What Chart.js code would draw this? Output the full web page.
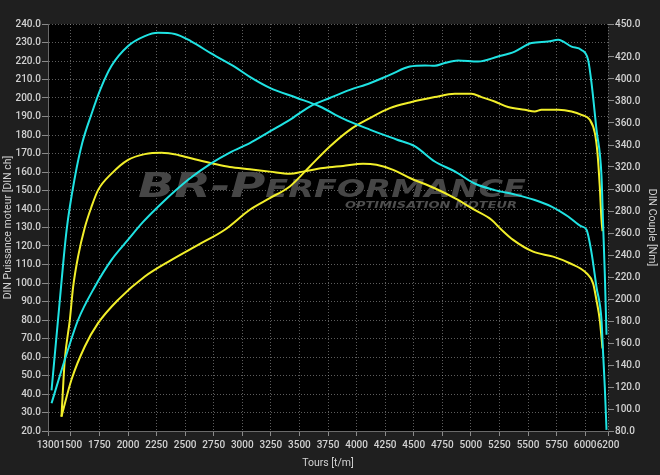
<!DOCTYPE html>
<html><head><meta charset="utf-8">
<script src="https://cdn.jsdelivr.net/npm/chart.js@4.4.1/dist/chart.umd.min.js"></script>
<style>html,body{margin:0;padding:0;background:#1f1f1f;overflow:hidden}</style>
</head><body>
<canvas id="c" width="660" height="475"></canvas>
<script>
// ---- tick labels ----
const rpmTicks = [1300,1500,1750,2000,2250,2500,2750,3000,3250,3500,3750,4000,4250,4500,4750,5000,5250,5500,5750,6000,6200];
const powerTicks = [20,30,40,50,60,70,80,90,100,110,120,130,140,150,160,170,180,190,200,210,220,230,240];
const torqueTicks = [80,100,120,140,160,180,200,220,240,260,280,300,320,340,360,380,400,420,450];

// ---- cyan run: power [DIN ch] ----
const cyanPowerRpm = [1331,1447,1563,1710,1856,2001,2132,2293,2526,2731,2891,3066,3241,3416,3591,3766,3941,4116,4291,4466,4600,4684,4771,4888,5063,5238,5384,5531,5676,5764,5881,5968,6026,6056,6099,6143,6157,6172,6187];
const cyanPowerCh  = [35,58.5,80,98,112.5,123.4,133,143,155.8,164.8,170.5,175.6,181.9,188.2,195.4,200,204.4,208,212.5,217,217.6,217.4,218.9,220.3,219.7,222.4,225.1,229.7,230.5,231.5,227.8,226,220.6,208,183,158,132,105,72];
// ---- cyan run: torque [Nm] ----
const cyanTorqueRpm = [1331,1400,1462,1534,1600,1680,1760,1856,2001,2147,2263,2409,2556,2731,2935,3066,3241,3474,3678,3882,4116,4349,4508,4684,4859,5033,5208,5384,5559,5706,5851,5968,6012,6056,6099,6143,6157,6172,6187];
const cyanTorqueNm  = [117,195,262,310,342,368,391,412,430,439,442,441,434,423,411,402,392,383,375,364,354,345,339,325,316,305,299,295,290,284,275,266,263,242,211,181,151,120,81];
// ---- yellow run: power [DIN ch] ----
const yellowPowerRpm = [1418,1505,1622,1738,1913,2147,2381,2614,2847,3066,3241,3416,3591,3766,3941,4116,4291,4466,4684,4859,5005,5093,5208,5326,5472,5559,5618,5764,5881,5968,6041,6085,6108,6128,6143,6152];
const yellowPowerCh  = [27.8,47.7,65.7,78.3,90.9,103.5,112.5,120.6,128.8,139.6,145.9,152.2,163,173.8,182.8,189.1,194.5,197.6,200.5,202.3,202.3,200.5,198.1,195.1,193.6,192.7,193.6,193.6,192.7,190.9,188.2,181,170.2,152.2,134.2,128];
// ---- yellow run: torque [Nm] ----
const yellowTorqueRpm = [1418,1432,1447,1491,1520,1563,1622,1681,1738,1856,2001,2147,2293,2438,2584,2731,2891,3066,3241,3416,3532,3707,3882,4057,4174,4320,4466,4684,4859,5033,5180,5268,5370,5545,5720,5866,6012,6070,6099,6128,6152];
const yellowTorqueNm  = [93,120,145,181,211,238.5,265,284,299,314,326.5,331.7,333,331,327,323.5,320,318,315.8,313.8,315.8,319,321,323,322,317.4,310,300.7,291.7,281,272,263,253.7,243,238.5,232.5,223.4,214,199,181,155];

const CYAN = '#1fe3e3';
const YELLOW = '#f2ef2a';
const TXT = '#d2d2d2';

const pts = (xs, ys) => xs.map((x, i) => ({x, y: ys[i]}));

const bgPlugin = {
  id: 'bg',
  beforeDraw(chart) {
    const {ctx, chartArea: a} = chart;
    ctx.save();
    ctx.fillStyle = '#1f1f1f';
    ctx.fillRect(0, 0, chart.width, chart.height);
    ctx.fillStyle = '#000000';
    ctx.fillRect(a.left, a.top, a.right - a.left, a.bottom - a.top);
    ctx.restore();
  }
};

const watermark = {
  id: 'wm',
  beforeDatasetsDraw(chart) {
    const ctx = chart.ctx;
    ctx.save();
    ctx.font = 'italic small-caps bold 34px "DejaVu Sans"';
    ctx.fillStyle = '#464646';
    ctx.textBaseline = 'alphabetic';
    const t1 = 'BR-Performance';
    const w1 = ctx.measureText(t1).width;
    ctx.translate(138, 197);
    ctx.scale(388 / w1, 1);
    ctx.fillText(t1, 0, 0);
    ctx.restore();
    ctx.save();
    ctx.font = 'italic bold 8.5px "DejaVu Sans"';
    ctx.fillStyle = '#4e4e4e';
    const t2 = 'OPTIMISATION MOTEUR';
    const w2 = ctx.measureText(t2).width;
    ctx.translate(345, 207.5);
    ctx.scale(172 / w2, 1);
    ctx.fillText(t2, 0, 0);
    ctx.restore();
  }
};

const tickFont = {family: 'Roboto', size: 10, weight: '500'};
const titleFont = {family: 'Roboto', size: 10.5};
const gridDash = [1, 2];

new Chart(document.getElementById('c'), {
  type: 'line',
  data: {
    datasets: [
      {label: 'Couple', data: pts(cyanTorqueRpm, cyanTorqueNm), yAxisID: 'yT', borderColor: CYAN},
      {label: 'Puissance', data: pts(cyanPowerRpm, cyanPowerCh), yAxisID: 'yP', borderColor: CYAN},
      {label: 'Couple origine', data: pts(yellowTorqueRpm, yellowTorqueNm), yAxisID: 'yT', borderColor: YELLOW},
      {label: 'Puissance origine', data: pts(yellowPowerRpm, yellowPowerCh), yAxisID: 'yP', borderColor: YELLOW}
    ]
  },
  options: {
    responsive: false,
    animation: false,
    devicePixelRatio: 1,
    layout: {padding: {top: 24, left: 0, right: 0, bottom: 0}},
    elements: {
      point: {radius: 0, hoverRadius: 0},
      line: {borderWidth: 2, tension: 0.4, cubicInterpolationMode: 'monotone', fill: false}
    },
    plugins: {legend: {display: false}, tooltip: {enabled: false}},
    scales: {
      x: {
        type: 'linear', min: 1300, max: 6200,
        afterBuildTicks(s) { s.ticks = rpmTicks.map(v => ({value: v})); },
        afterFit(s) { s.height = 44; },
        ticks: {autoSkip: false, maxRotation: 0, color: TXT, font: tickFont, padding: 3, callback: v => String(v)},
        grid: {color: 'rgba(170,170,170,0.55)', lineWidth: 1, tickLength: 5, tickColor: '#8a8a8a', drawOnChartArea: true},
        border: {display: true, color: '#6a6a6a', dash: gridDash},
        title: {display: true, text: 'Tours [t/m]', color: TXT, font: titleFont, padding: {top: 0, bottom: 5}}
      },
      yP: {
        type: 'linear', position: 'left', min: 20, max: 240,
        afterBuildTicks(s) { s.ticks = powerTicks.map(v => ({value: v})); },
        afterFit(s) { s.width = 48; },
        ticks: {color: TXT, font: tickFont, padding: 1, callback: v => Number(v).toFixed(1)},
        grid: {color: 'rgba(170,170,170,0.55)', lineWidth: 1, tickLength: 6, tickColor: '#8a8a8a'},
        border: {display: true, color: '#6a6a6a', dash: gridDash},
        title: {display: true, text: 'DIN Puissance moteur [DIN ch]', color: TXT, font: titleFont, padding: {top: 2, bottom: 0}}
      },
      yT: {
        type: 'linear', position: 'right', min: 80, max: 450,
        afterBuildTicks(s) { s.ticks = torqueTicks.map(v => ({value: v})); },
        afterFit(s) { s.width = 52; },
        ticks: {color: TXT, font: tickFont, padding: 1, callback: v => Number(v).toFixed(1)},
        grid: {drawOnChartArea: false, tickLength: 6, tickColor: '#8a8a8a'},
        border: {display: false},
        title: {display: true, text: 'DIN Couple [Nm]', color: TXT, font: titleFont, padding: {top: 2, bottom: 2}}
      }
    }
  },
  plugins: [bgPlugin, watermark]
});
</script>
</body></html>
